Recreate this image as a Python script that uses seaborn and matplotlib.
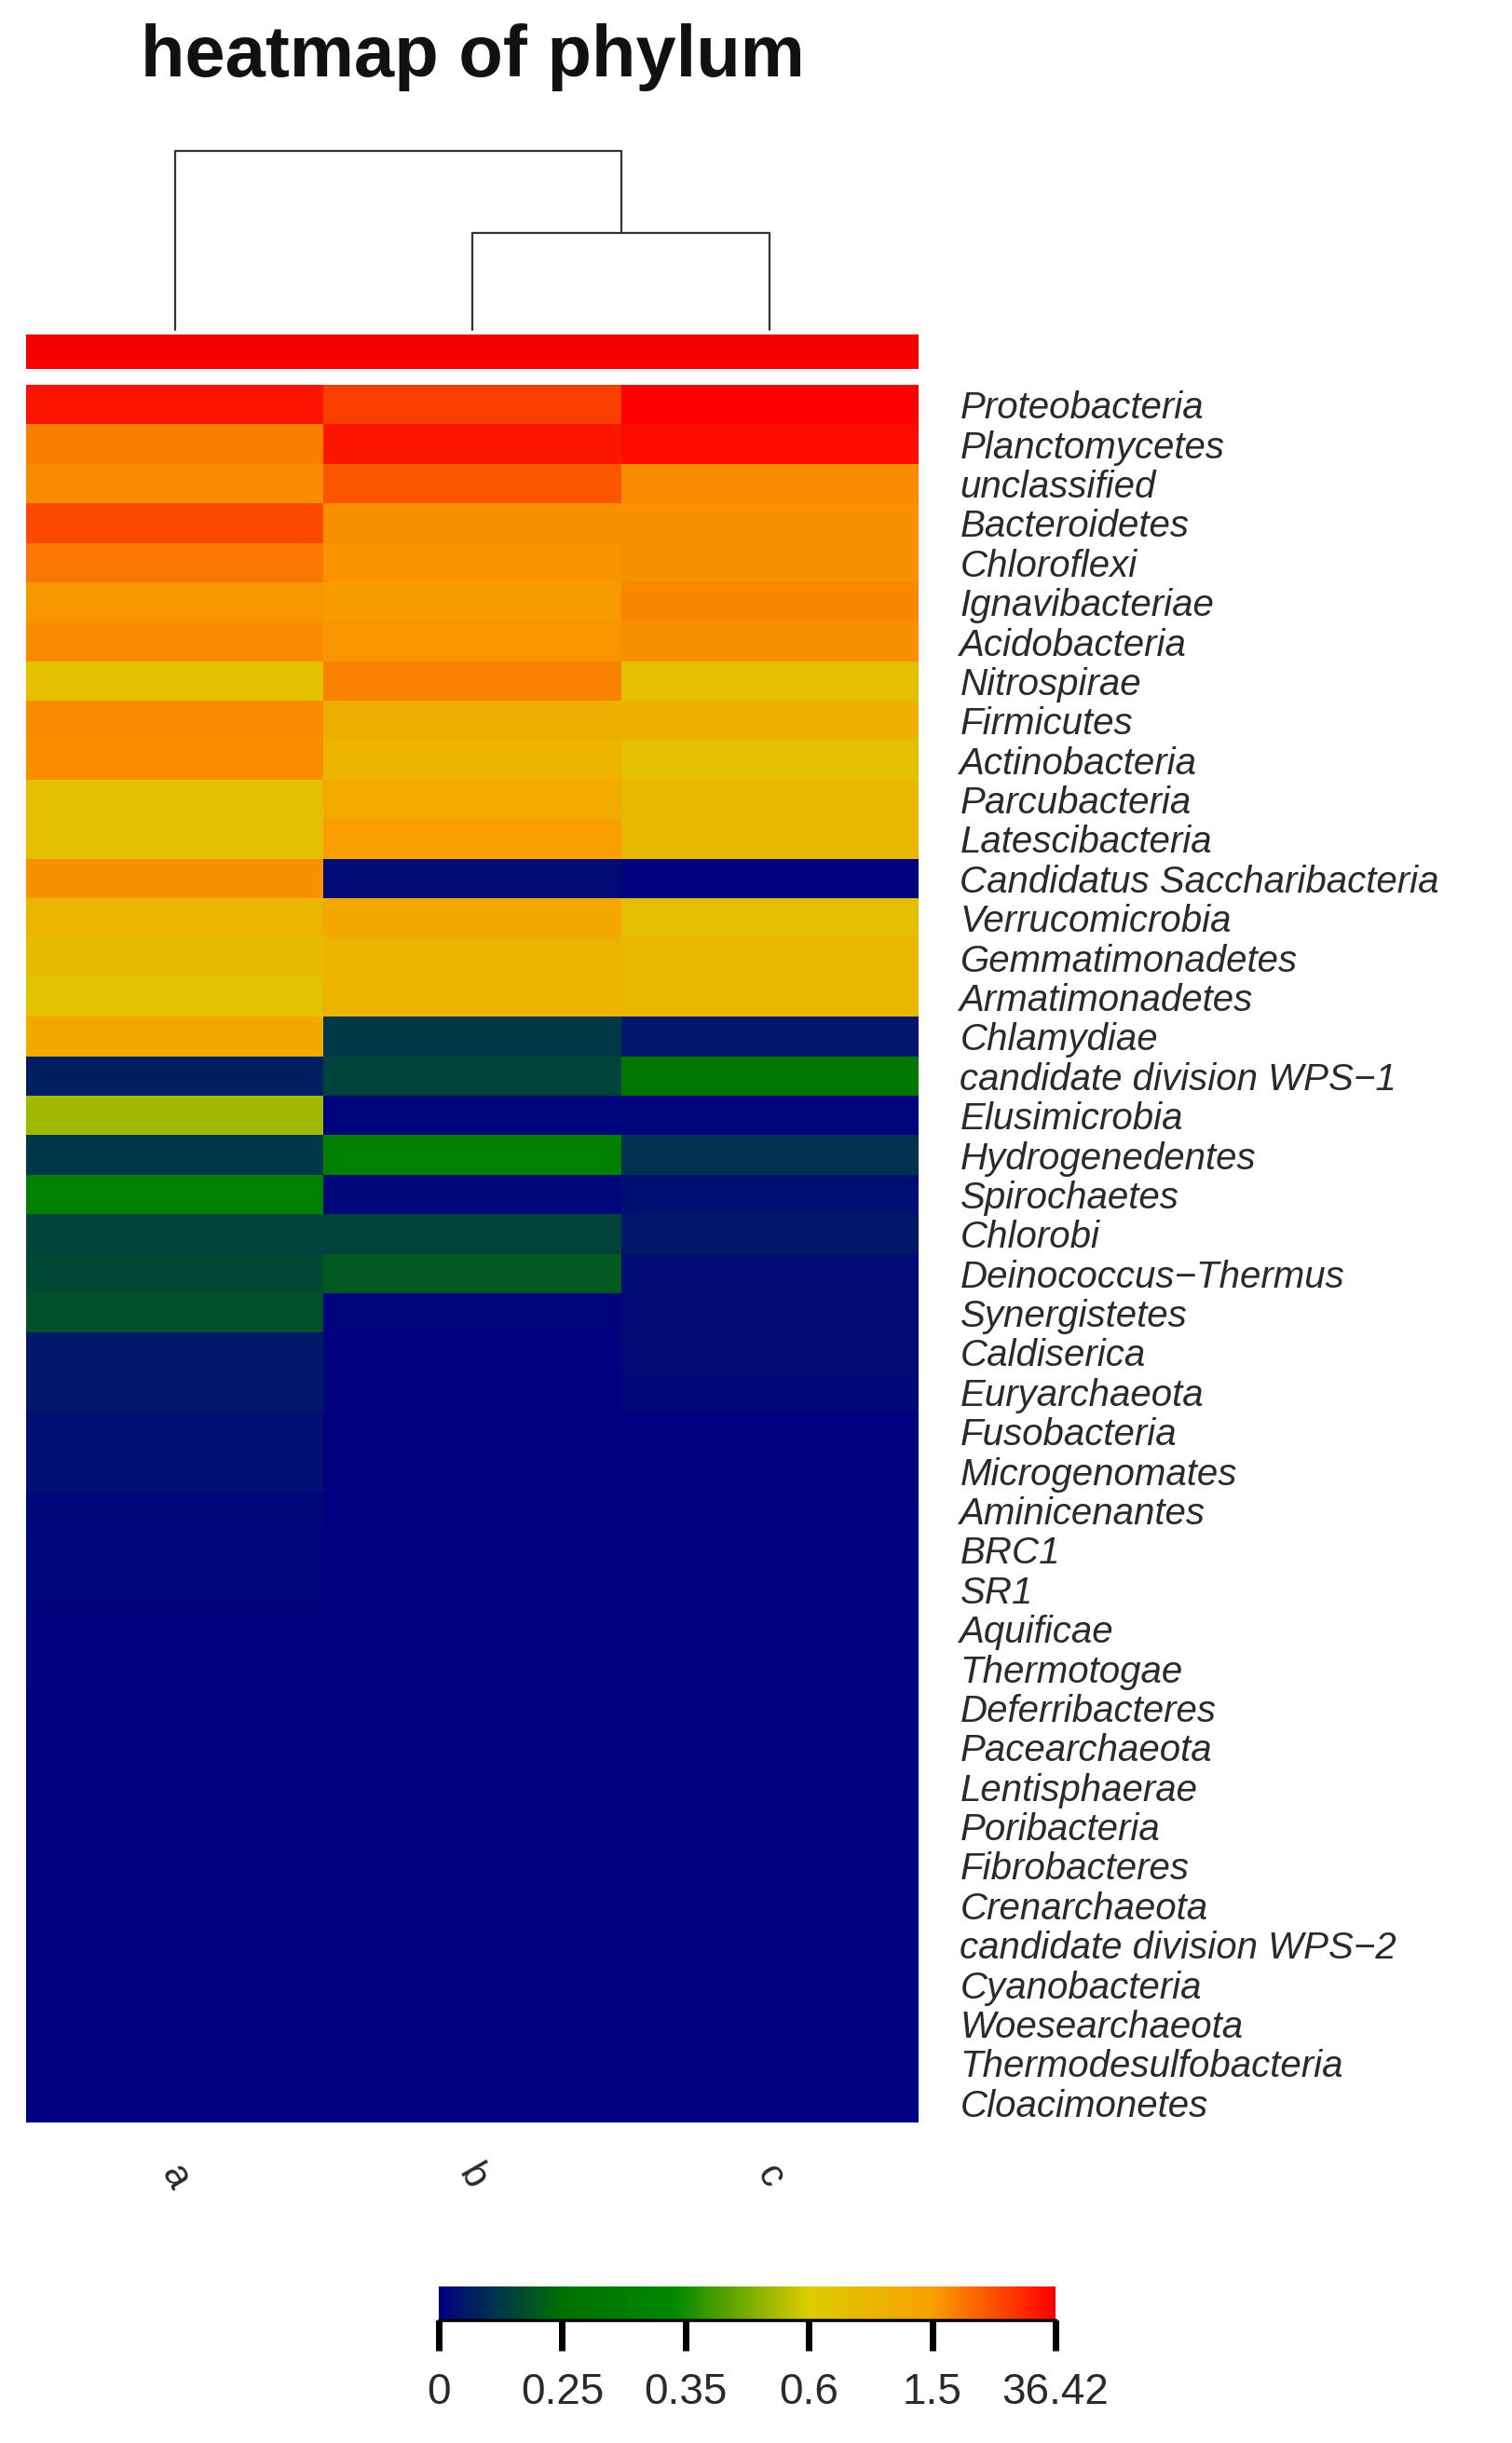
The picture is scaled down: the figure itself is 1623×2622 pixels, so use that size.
import numpy as np
import pandas as pd
import matplotlib
matplotlib.use("Agg")
import matplotlib.pyplot as plt
import matplotlib.colors as mcolors
import seaborn as sns

# ---------------- data ----------------
samples = ["a", "b", "c"]
phyla = [
    "Proteobacteria", "Planctomycetes", "unclassified", "Bacteroidetes", "Chloroflexi",
    "Ignavibacteriae", "Acidobacteria", "Nitrospirae", "Firmicutes", "Actinobacteria",
    "Parcubacteria", "Latescibacteria", "Candidatus Saccharibacteria", "Verrucomicrobia",
    "Gemmatimonadetes", "Armatimonadetes", "Chlamydiae", "candidate division WPS\u22121",
    "Elusimicrobia", "Hydrogenedentes", "Spirochaetes", "Chlorobi", "Deinococcus\u2212Thermus",
    "Synergistetes", "Caldiserica", "Euryarchaeota", "Fusobacteria", "Microgenomates",
    "Aminicenantes", "BRC1", "SR1", "Aquificae", "Thermotogae", "Deferribacteres",
    "Pacearchaeota", "Lentisphaerae", "Poribacteria", "Fibrobacteres", "Crenarchaeota",
    "candidate division WPS\u22122", "Cyanobacteria", "Woesearchaeota",
    "Thermodesulfobacteria", "Cloacimonetes",
]
values_a = [32.0, 8.5, 5.9, 19.8, 10.5, 3.4, 5.9, 0.85, 5.9, 5.6,
            0.86, 0.86, 5.0, 1.05, 0.95, 0.78, 1.34, 0.07, 0.525, 0.12,
            0.31, 0.15, 0.16, 0.18, 0.054, 0.054, 0.036, 0.036, 0.015, 0.012,
            0.01, 0.006, 0.005, 0.004, 0.004, 0.003, 0.003, 0.002, 0.002, 0.002,
            0.001, 0.001, 0.001, 0.0]
values_b = [22.5, 31.0, 17.9, 5.0, 4.2, 2.6, 3.7, 8.0, 1.17, 1.1,
            1.3, 1.8, 0.025, 1.34, 1.1, 1.1, 0.125, 0.15, 0.01, 0.31,
            0.015, 0.15, 0.2, 0.01, 0.004, 0.003, 0.002, 0.002, 0.001, 0.001,
            0.001, 0.001, 0.0, 0.0, 0.0, 0.0, 0.0, 0.0, 0.0, 0.0,
            0.0, 0.0, 0.0, 0.0]
values_c = [36.42, 34.0, 5.9, 5.0, 5.0, 7.0, 5.0, 0.85, 1.17, 0.85,
            1.0, 1.0, 0.005, 0.86, 1.0, 1.0, 0.05, 0.28, 0.01, 0.11,
            0.035, 0.054, 0.025, 0.025, 0.025, 0.02, 0.004, 0.003, 0.002, 0.001,
            0.001, 0.001, 0.001, 0.0, 0.0, 0.0, 0.0, 0.0, 0.0, 0.0,
            0.0, 0.0, 0.0, 0.0]
color_breaks = [0, 0.25, 0.35, 0.6, 1.5, 36.42]
break_labels = ["0", "0.25", "0.35", "0.6", "1.5", "36.42"]
# dendrogram merge heights (b-c, then a with (b,c))
merge_bc = 5.4
merge_top = 10.0

# ---------------- style ----------------
sns.set_style("white")
plt.rcParams["font.family"] = ["Liberation Sans", "DejaVu Sans"]

W, H = 1623, 2622
fig = plt.figure(figsize=(W / 100, H / 100), dpi=100)
fig.patch.set_facecolor("white")

def fx(px):
    return px / W

def fy(px):
    return 1 - px / H

anchor_pos = [0.0, 0.10, 0.20, 0.38, 0.60, 0.80, 1.0]
anchor_col = ["#000080", "#003848", "#007000", "#008800", "#dccc00", "#f8a000", "#ff0000"]
cmap = mcolors.LinearSegmentedColormap.from_list("phy", list(zip(anchor_pos, anchor_col)), N=512)
pos = np.linspace(0, 1, len(color_breaks))
norm = mcolors.FuncNorm(
    (lambda x: np.interp(x, color_breaks, pos), lambda y: np.interp(y, pos, color_breaks)),
    vmin=color_breaks[0], vmax=color_breaks[-1])

df = pd.DataFrame({"a": values_a, "b": values_b, "c": values_c}, index=phyla)

left_px, right_px = 28, 986
top_px, bot_px = 413, 2278

ax = fig.add_axes([fx(left_px), fy(bot_px), fx(right_px - left_px), (bot_px - top_px) / H])
sns.heatmap(df, ax=ax, cmap=cmap, norm=norm, cbar=False, linewidths=0,
            xticklabels=True, yticklabels=True)
ax.yaxis.tick_right()
ax.set_yticklabels(phyla, rotation=0, fontstyle="italic", fontsize=29, color="#2a2a2a")
ax.tick_params(axis="y", length=0, pad=32)
ax.set_xticklabels(samples, rotation=-60, fontsize=30, color="#2a2a2a")
ax.tick_params(axis="x", length=0, pad=28)
ax.set_xlabel("")
ax.set_ylabel("")

# annotation bar
ax_ann = fig.add_axes([fx(left_px), fy(396), fx(right_px - left_px), 37 / H])
sns.heatmap(np.ones((1, len(samples))), ax=ax_ann, cmap=mcolors.ListedColormap(["#f60000"]),
            cbar=False, xticklabels=False, yticklabels=False)

# dendrogram
ax_d = fig.add_axes([fx(left_px), fy(354), fx(right_px - left_px), (354 - 162) / H])
ax_d.set_xlim(0, len(samples))
ax_d.set_ylim(0, merge_top)
xa, xb, xc = 0.5, 1.5, 2.5
ax_d.plot([xb, xb, xc, xc], [0, merge_bc, merge_bc, 0], color="#333333", lw=1.6, clip_on=False)
ax_d.plot([xa, xa, (xb + xc) / 2, (xb + xc) / 2], [0, merge_top, merge_top, merge_bc],
          color="#333333", lw=1.6, clip_on=False)
ax_d.axis("off")

# title
fig.text(fx(507), fy(62), "heatmap of phylum", ha="center", va="center",
         fontsize=56, fontweight="bold", color="#111111")

# colorbar
cax = fig.add_axes([fx(471), fy(2490), fx(1133 - 471), 36 / H])
mesh = ax.collections[0]
cb = fig.colorbar(mesh, cax=cax, orientation="horizontal")
cb.set_ticks(color_breaks)
cb.set_ticklabels(break_labels)
cb.outline.set_visible(False)
cax.tick_params(axis="x", length=24, width=5, labelsize=33, pad=16, color="black",
                labelcolor="#2a2a2a", direction="out")
cax.axhline(0, color="black", lw=2.5, clip_on=False)

fig.savefig("out.png", dpi=100, facecolor="white")
